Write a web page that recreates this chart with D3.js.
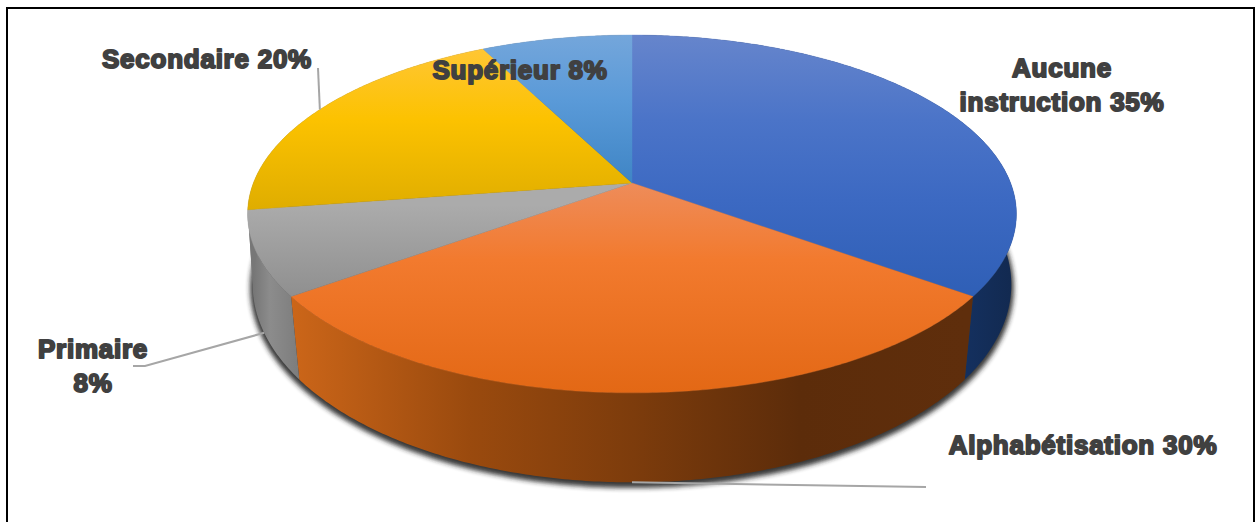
<!DOCTYPE html>
<html><head><meta charset="utf-8">
<script src="https://cdn.jsdelivr.net/npm/d3@7/dist/d3.min.js"></script>
<style>html,body{margin:0;padding:0;background:#fff;overflow:hidden}svg{display:block}</style>
</head><body><svg id="c" width="1256" height="522"></svg>
<script>
const categories = ["Aucune instruction","Alphabétisation","Primaire","Secondaire","Supérieur"];
const values = [35,30,7.6,19.9,7.5];
const labelLines = [["Aucune","instruction 35%"],["Alphabétisation 30%"],["Primaire","8%"],["Secondaire 20%"],["Supérieur 8%"]];
const labelAnchors = [[1062,77],[1083,454],[93,358],[207,68],[520,79]];
const leaderEnds = [null,[[926,487]],[[145,366],[133,366]],[[318,68]],null];
const leaderRim = [null,"bottom","bottom","top",null];
const topStops = [
 [[35,"#6685cc"],[120,"#4b74c8"],[200,"#3c69c2"],[296,"#2f5fb6"]],
 [[183,"#ee8c5a"],[260,"#f27a2e"],[393,"#e36815"]],
 [[205,"#ababab"],[297,"#8f8f8f"]],
 [[49,"#ffc634"],[120,"#fcc200"],[210,"#dfad00"]],
 [[35,"#74a6db"],[100,"#5a9ad8"],[183,"#3f85c5"]]
];
const sideStops = [
 [[965,"#14305f"],[1016,"#12294f"]],
 [[290,"#cc6619"],[470,"#9a4a0e"],[632,"#7d3c0c"],[800,"#5c2c0a"],[965,"#5f2e0c"]],
 [[252,"#747474"],[270,"#8c8c8c"],[300,"#7c7c7c"]],
 [[248,"#777"],[632,"#777"]],
 [[484,"#777"],[632,"#777"]]
];
const svg = d3.select("#c");
const defs = svg.append("defs");
const topPlane = {cx:632,b:183,a:141.9,p:-0.173,k:378.6};
const botPlane = {cx:632,b:255,a:155,p:-0.15,k:375};
const project = (pl,t)=>{const u=Math.sin(t),v=-Math.cos(t),d=1+pl.p*v;return [pl.cx+pl.k*u/d,(pl.b+pl.a*v)/d];};
const arcPts = (pl,a0,a1)=>{const n=Math.max(2,Math.ceil((a1-a0)/0.01));return d3.range(n+1).map(i=>project(pl,a0+(a1-a0)*i/n));};
const line = d3.line();
const arcs = d3.pie().sort(null).value(d=>d)(values);
const grad=(id,stops,horizontal)=>{
  const g=defs.append("linearGradient").attr("id",id).attr("gradientUnits","userSpaceOnUse");
  const lo=stops[0][0],hi=stops[stops.length-1][0];
  if(horizontal) g.attr("x1",lo).attr("x2",hi).attr("y1",0).attr("y2",0); else g.attr("x1",0).attr("x2",0).attr("y1",lo).attr("y2",hi);
  stops.forEach(s=>g.append("stop").attr("offset",(s[0]-lo)/(hi-lo)).attr("stop-color",s[1]));
};
categories.forEach((c,i)=>{grad("t"+i,topStops[i],false);grad("s"+i,sideStops[i],true);});
defs.append("filter").attr("id","blur").attr("x","-10%").attr("y","-10%").attr("width","120%").attr("height","120%")
  .append("feGaussianBlur").attr("stdDeviation",2.4);
// frame
svg.append("rect").attr("x",7).attr("y",8).attr("width",1247).attr("height",530).attr("fill","#fff").attr("stroke","#000").attr("stroke-width",2);
// shadow
svg.append("path").attr("d",line(arcPts(botPlane,0,2*Math.PI))+"Z").attr("transform","translate(0,3)")
  .attr("fill","#222").attr("stroke","#222").attr("stroke-width",5).attr("filter","url(#blur)").attr("opacity",.9);
// sides
svg.append("g").selectAll("path").data(arcs).join("path")
  .attr("d",d=>{const t=arcPts(topPlane,d.startAngle,d.endAngle),b=arcPts(botPlane,d.startAngle,d.endAngle).reverse();return line(t.concat(b))+"Z";})
  .attr("fill",(d,i)=>`url(#s${i})`);
// tops
const apex=[topPlane.cx,topPlane.b];
svg.append("g").selectAll("path").data(arcs).join("path")
  .attr("d",d=>line([apex].concat(arcPts(topPlane,d.startAngle,d.endAngle)))+"Z")
  .attr("fill",(d,i)=>`url(#t${i})`).attr("stroke",(d,i)=>`url(#t${i})`).attr("stroke-width",.4);
// leaders
const leaderLayer = svg.append("g");
arcs.forEach((d,i)=>{
  if(!leaderRim[i])return;
  const mid=(d.startAngle+d.endAngle)/2;
  const start=project(leaderRim[i]==="top"?topPlane:botPlane,mid);
  leaderLayer.append("path").attr("d",line([start].concat(leaderEnds[i]))).attr("fill","none").attr("stroke","#a6a6a6").attr("stroke-width",2);
});
// labels
const font="'Liberation Sans',Arial,sans-serif";
categories.forEach((c,i)=>{
  const g=svg.append("g").attr("font-family",font).attr("font-weight",700).attr("font-size",26).attr("letter-spacing",0.75).attr("text-anchor","middle");
  labelLines[i].forEach((t,j)=>{
    const y=labelAnchors[i][1]+j*34;
    g.append("text").attr("x",labelAnchors[i][0]).attr("y",y).text(t).attr("fill","#404040").attr("stroke","#404040").attr("stroke-width",1.9).attr("stroke-linejoin","round");
  });
});
</script></body></html>
